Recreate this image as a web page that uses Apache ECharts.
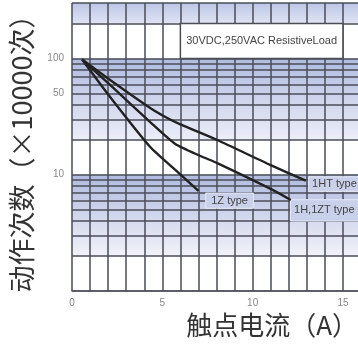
<!DOCTYPE html>
<html>
<head>
<meta charset="utf-8">
<script src="https://cdn.jsdelivr.net/npm/echarts@6/dist/echarts.min.js"></script>
<style>
    html, body { margin: 0; padding: 0; background: #fff; }
    #chart { width: 358px; height: 347px; }
</style>
</head>
<body>
<div id="chart"></div>
<script>
    // 寿命曲线数据 (x: 触点电流 A, y: 动作次数 ×10000)
    var typeNames = ['1HT type', '1H,1ZT type', '1Z type'];
    var hTypeData = [[0.56, 98], [2.11, 65.3], [4.33, 37.5], [5.17, 31.4], [6.0, 27.1], [8.04, 19.9], [11.0, 12.1], [12.94, 8.9]];
    var hzTypeData = [[0.56, 98], [2.11, 59.2], [4.33, 28.4], [5.72, 18.4], [7.11, 14.5], [8.04, 12.6], [11.0, 7.55], [12.11, 6.07]];
    var zTypeData = [[0.56, 98], [2.11, 46.6], [4.33, 17.3], [5.72, 11.0], [7.0, 7.25]];

    var xTicks = [0, 1, 2, 3, 4, 5, 6, 7, 8, 9, 10, 11, 12, 13, 14, 15, 16];
    var xLabels = [0, 5, 10, 15];
    var yTicks = [1, 2, 3, 4, 5, 6, 7, 8, 9, 10, 20, 30, 40, 50, 60, 70, 80, 90, 100, 200, 300];
    var yLabels = [10, 50, 100];
    var loadText = '30VDC,250VAC ResistiveLoad';

    var myChart = echarts.init(document.getElementById('chart'));

    function band(c1, c2) {
        return {
            type: 'linear', x: 0, y: 0, x2: 0, y2: 1,
            colorStops: [{offset: 0, color: c1}, {offset: 1, color: c2}]
        };
    }

    var gridLines = [];
    xTicks.forEach(function (v) {
        gridLines.push({xAxis: v});
    });
    yTicks.forEach(function (v) {
        var item = {yAxis: v};
        if (yLabels.indexOf(v) >= 0) {
            item.label = {show: true};
        }
        gridLines.push(item);
    });

    var boxLabel = {
        color: '#444',
        fontSize: 11,
        fontFamily: 'Liberation Sans, Arial, sans-serif'
    };

    var options = {
        animation: false,
        // 右侧超出画布，与原图一样被裁掉
        grid: {left: 72, right: -3, top: 3, bottom: 56, outerBoundsMode: 'none'},
        xAxis: {
            type: 'value',
            min: 0,
            max: 16,
            interval: 1,
            name: '触点电流（A）',
            nameLocation: 'end',
            nameGap: -3,
            nameTextStyle: {
                fontFamily: 'Noto Sans CJK SC',
                fontSize: 26,
                color: '#333',
                align: 'right',
                verticalAlign: 'top',
                padding: [21, 0, 0, 0]
            },
            axisLine: {show: true, lineStyle: {color: '#999', width: 2}},
            axisTick: {show: false},
            splitLine: {show: false},
            axisLabel: {
                margin: 7,
                color: '#888',
                fontSize: 10,
                fontFamily: 'Liberation Sans, Arial, sans-serif',
                formatter: function (v) {
                    return xLabels.indexOf(v) >= 0 ? String(v) : '';
                }
            }
        },
        yAxis: {
            type: 'log',
            logBase: 10,
            min: 1,
            max: 300,
            name: '动作次数（×10000次）',
            nameLocation: 'middle',
            nameGap: 37,
            nameTextStyle: {
                fontFamily: 'Noto Sans CJK SC',
                fontSize: 27,
                color: '#333'
            },
            axisLine: {show: false},
            axisTick: {show: false},
            axisLabel: {show: false},
            splitLine: {show: false}
        },
        series: [
            {
                // 背景色带 + 网格线
                name: 'bg',
                type: 'line',
                data: [],
                silent: true,
                markArea: {
                    z: 0,
                    silent: true,
                    data: [
                        [{yAxis: 300, itemStyle: {color: band('#bcc6e6', '#dfe4f3')}}, {yAxis: 200}],
                        [{yAxis: 100, itemStyle: {color: band('#b0bbdf', '#eceef8')}}, {yAxis: 20}],
                        [{yAxis: 10, itemStyle: {color: band('#b0bbdf', '#f1f2f9')}}, {yAxis: 2}]
                    ]
                },
                markLine: {
                    z: 1,
                    silent: true,
                    symbol: ['none', 'none'],
                    animation: false,
                    lineStyle: {type: 'solid', color: '#4a4c58', width: 1.5},
                    label: {
                        show: false,
                        position: 'start',
                        distance: 8,
                        color: '#888',
                        fontSize: 10,
                        fontFamily: 'Liberation Sans, Arial, sans-serif',
                        formatter: function (p) { return p.value; }
                    },
                    emphasis: {disabled: true},
                    data: gridLines
                }
            },
            {
                // 说明框
                name: 'boxes',
                type: 'line',
                data: [],
                silent: true,
                markArea: {
                    z: 2,
                    silent: true,
                    data: [
                        [{
                            xAxis: 6, yAxis: 200, name: loadText,
                            itemStyle: {color: '#fff', borderColor: '#4a4c58', borderWidth: 1.5},
                            label: Object.assign({position: 'inside', color: '#555'}, boxLabel)
                        }, {xAxis: 15, yAxis: 100}],
                        [{
                            xAxis: 13.1, yAxis: 9.6, name: typeNames[0],
                            itemStyle: {color: '#c9d0ea', borderColor: '#e4e8f5', borderWidth: 1},
                            label: Object.assign({position: 'insideLeft', distance: 4}, boxLabel)
                        }, {xAxis: 16, yAxis: 7.2}],
                        [{
                            xAxis: 12.1, yAxis: 6.1, name: typeNames[1],
                            itemStyle: {color: '#c9d0ea', borderColor: '#e4e8f5', borderWidth: 1},
                            label: Object.assign({position: 'insideLeft', distance: 4}, boxLabel)
                        }, {xAxis: 16, yAxis: 4.0}],
                        [{
                            xAxis: 7.4, yAxis: 6.95, name: typeNames[2],
                            itemStyle: {color: '#c9d0ea', borderColor: '#e4e8f5', borderWidth: 1},
                            label: Object.assign({position: 'inside'}, boxLabel)
                        }, {xAxis: 10.05, yAxis: 5.15}]
                    ]
                }
            },
            {
                name: typeNames[0],
                type: 'line',
                z: 3,
                smooth: 0.2,
                showSymbol: false,
                lineStyle: {color: '#222', width: 2.4},
                data: hTypeData
            },
            {
                name: typeNames[1],
                type: 'line',
                z: 3,
                smooth: 0.2,
                showSymbol: false,
                lineStyle: {color: '#222', width: 2.4},
                data: hzTypeData
            },
            {
                name: typeNames[2],
                type: 'line',
                z: 3,
                smooth: 0.2,
                showSymbol: false,
                lineStyle: {color: '#222', width: 2.4},
                data: zTypeData
            }
        ]
    };
    myChart.setOption(options);
</script>
</body>
</html>
